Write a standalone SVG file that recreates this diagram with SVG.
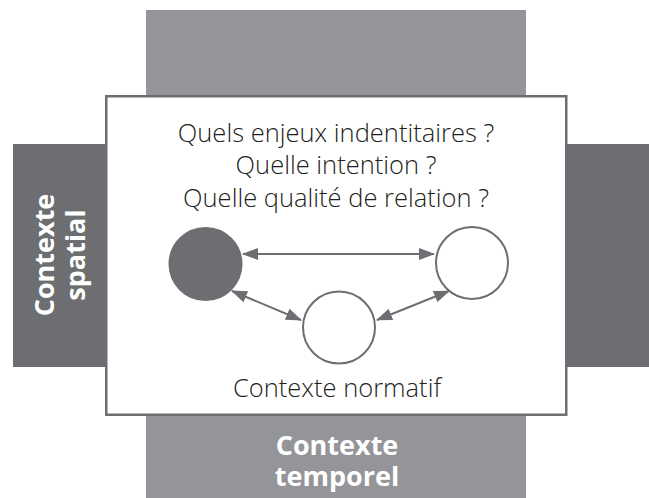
<svg xmlns="http://www.w3.org/2000/svg" width="649" height="498" viewBox="0 0 649 498">
  <style>
    .ctx-light { fill: #939598; }
    .ctx-dark { fill: #6d6e71; }
    .frame { fill: #ffffff; stroke: #6d6e71; stroke-width: 2.5; }
    .q { font-family: "Open Sans", "Liberation Sans", sans-serif; font-weight: 300; font-size: 25.5px; fill: #231f20; text-anchor: middle; }
    .lbl { font-family: "Open Sans", "Liberation Sans", sans-serif; font-weight: 700; font-size: 27px; fill: #ffffff; text-anchor: middle; }
    .node { fill: #ffffff; stroke: #6d6e71; stroke-width: 2; }
    .node.self { fill: #6d6e71; }
    .link { stroke: #6d6e71; stroke-width: 2; fill: none; marker-start: url(#head); marker-end: url(#head); }
  </style>
  <defs>
    <marker id="head" viewBox="0 0 16 12" refX="15" refY="6" markerWidth="16" markerHeight="12" markerUnits="userSpaceOnUse" orient="auto-start-reverse">
      <path d="M0,0 L16,6 L0,12 z" fill="#6d6e71"/>
    </marker>
  </defs>

  <!-- surrounding contexts -->
  <g id="ctx-top">
    <rect class="ctx-light" x="146" y="10" width="380" height="88"/>
  </g>
  <g id="ctx-bottom">
    <rect class="ctx-light" x="146" y="414" width="380" height="84"/>
    <text class="lbl" x="337" y="455">Contexte</text>
    <text class="lbl" x="337" y="486">temporel</text>
  </g>
  <g id="ctx-spatial">
    <rect class="ctx-dark" x="13" y="144" width="95" height="223"/>
    <text class="lbl" transform="translate(54,255) rotate(-90)">Contexte</text>
    <text class="lbl" transform="translate(85,255) rotate(-90)">spatial</text>
  </g>
  <g id="ctx-right">
    <rect class="ctx-dark" x="564" y="144" width="85" height="223"/>
  </g>

  <!-- normative context frame -->
  <g id="ctx-normatif">
    <rect class="frame" x="106.25" y="96.25" width="460" height="318.5"/>
    <text class="q" x="336" y="142">Quels enjeux indentitaires ?</text>
    <text class="q" x="336" y="174">Quelle intention ?</text>
    <text class="q" x="336" y="207">Quelle qualité de relation ?</text>
    <text class="q" x="337" y="397">Contexte normatif</text>
  </g>

  <!-- actors -->
  <g id="actor-self">
    <circle class="node self" cx="205.5" cy="264" r="36"/>
  </g>
  <g id="actor-other">
    <circle class="node" cx="472" cy="263" r="36"/>
  </g>
  <g id="actor-third">
    <circle class="node" cx="339" cy="327.5" r="36"/>
  </g>

  <!-- relations -->
  <g id="connectors">
    <line class="link" x1="243" y1="254" x2="434" y2="254"/>
    <line class="link" x1="232" y1="291" x2="301" y2="320"/>
    <line class="link" x1="377" y1="320" x2="449" y2="291"/>
  </g>
</svg>
